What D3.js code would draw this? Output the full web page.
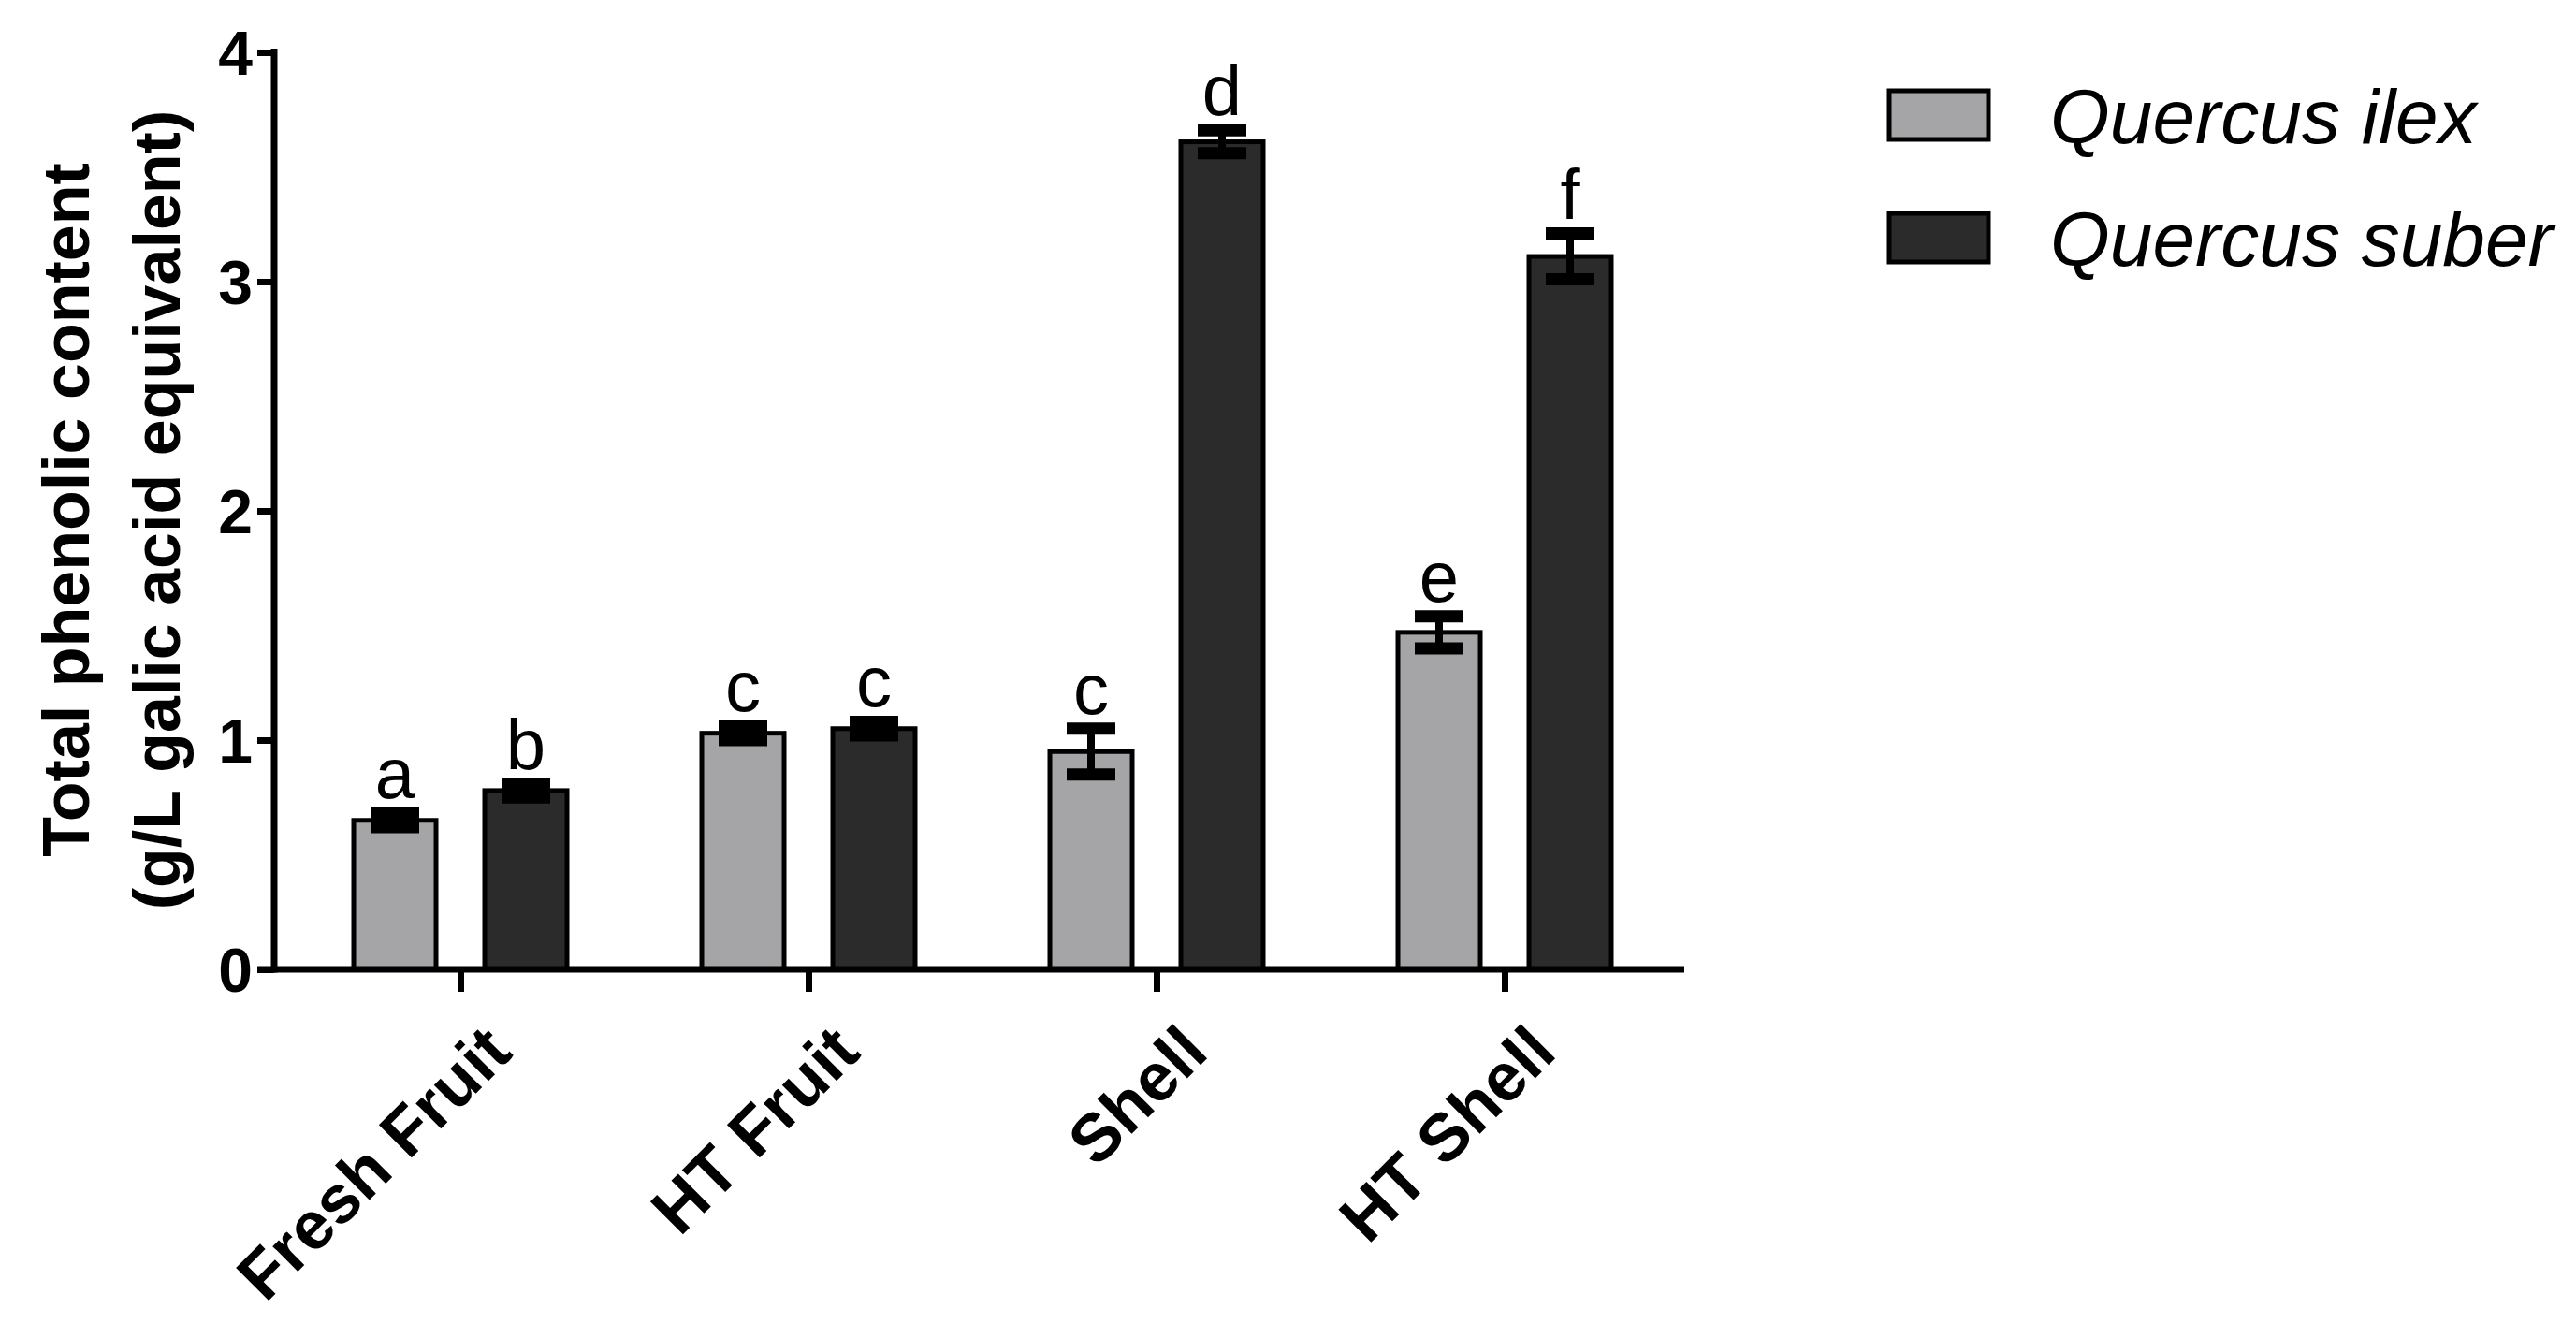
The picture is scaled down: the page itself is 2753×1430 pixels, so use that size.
<!DOCTYPE html><html><head><script src="https://cdn.jsdelivr.net/npm/d3@7"></script>
<style>body{margin:0;background:#fff}</style></head><body><script>
const categories=["Fresh Fruit","HT Fruit","Shell","HT Shell"];
const series=["Quercus ilex","Quercus suber"];
const ilexVals=[0.65,1.03,0.95,1.47];
const ilexErr=[0.03,0.03,0.1,0.07];
const suberVals=[0.78,1.05,3.61,3.11];
const suberErr=[0.03,0.03,0.05,0.1];
const ilexLetters=["a","c","c","e"];
const suberLetters=["b","c","d","f"];
const yTicks=[0,1,2,3,4];
const colors=["#a5a5a8","#2b2b2b"];
const W=2753,H=1430;
const svg=d3.select("body").append("svg").attr("width",W).attr("height",H);
const y=d3.scaleLinear().domain([0,4]).range([1036,56]);
const x=d3.scalePoint().domain(categories).range([492,1608]);
const off=d3.scalePoint().domain(series).range([-70,70]);
const bw=88;
const font="Liberation Sans, Arial, sans-serif";
const data=[];
categories.forEach((c,i)=>{
 data.push({c,s:series[0],v:ilexVals[i],e:ilexErr[i],l:ilexLetters[i],col:colors[0]});
 data.push({c,s:series[1],v:suberVals[i],e:suberErr[i],l:suberLetters[i],col:colors[1]});
});
const g=svg.append("g");
g.selectAll("rect.bar").data(data).join("rect").attr("x",d=>x(d.c)+off(d.s)-bw/2).attr("y",d=>y(d.v)).attr("width",bw).attr("height",d=>y(0)-y(d.v)).attr("fill",d=>d.col).attr("stroke","#000").attr("stroke-width",5);
data.forEach(d=>{
 const cx=x(d.c)+off(d.s);
 g.append("line").attr("x1",cx).attr("x2",cx).attr("y1",y(d.v+d.e)).attr("y2",y(d.v-d.e)).attr("stroke","#000").attr("stroke-width",8);
 [d.v+d.e,d.v-d.e].forEach(v=>g.append("line").attr("x1",cx-26).attr("x2",cx+26).attr("y1",y(v)).attr("y2",y(v)).attr("stroke","#000").attr("stroke-width",13));
 g.append("text").attr("x",cx).attr("y",y(d.v+d.e)-16).attr("text-anchor","middle").attr("font-family",font).attr("font-size",76).text(d.l);
});
const ya=svg.append("g").attr("transform","translate(293,0)").call(d3.axisLeft(y).tickValues(yTicks).tickSize(18).tickFormat(d3.format("d")));
const xa=svg.append("g").attr("transform","translate(0,1036)").call(d3.axisBottom(x).tickSize(24).tickFormat(""));
[ya,xa].forEach(a=>{a.selectAll("path,line").attr("stroke","#000").attr("stroke-width",7);a.select(".domain").attr("d",null);});
svg.append("line").attr("x1",293).attr("x2",293).attr("y1",52).attr("y2",1039.5).attr("stroke","#000").attr("stroke-width",7);
svg.append("line").attr("x1",275).attr("x2",1800).attr("y1",1036).attr("y2",1036).attr("stroke","#000").attr("stroke-width",7);
ya.selectAll("text").attr("font-family",font).attr("font-weight","bold").attr("font-size",66).attr("fill","#000").attr("dx",-2).attr("dy","0.36em");
categories.forEach(c=>{
 svg.append("text").attr("transform",`translate(${x(c)+22},${1092}) rotate(-45)`).attr("text-anchor","end").attr("dy","0.7em").attr("font-family",font).attr("font-weight","bold").attr("font-size",72).text(c);
});
const t=svg.append("text").attr("transform","translate(0,545) rotate(-90)").attr("text-anchor","middle").attr("font-family",font).attr("font-weight","bold").attr("font-size",70);
t.append("tspan").attr("x",0).attr("y",95).text("Total phenolic content");
t.append("tspan").attr("x",0).attr("y",192).text("(g/L galic acid equivalent)");
series.forEach((s,i)=>{
 const yy=97+i*131;
 svg.append("rect").attr("x",2019).attr("y",yy).attr("width",106).attr("height",52).attr("fill",colors[i]).attr("stroke","#000").attr("stroke-width",5);
 svg.append("text").attr("x",2191).attr("y",yy+26).attr("dy","0.36em").attr("font-family",font).attr("font-style","italic").attr("font-size",82).text(s);
});
</script></body></html>
